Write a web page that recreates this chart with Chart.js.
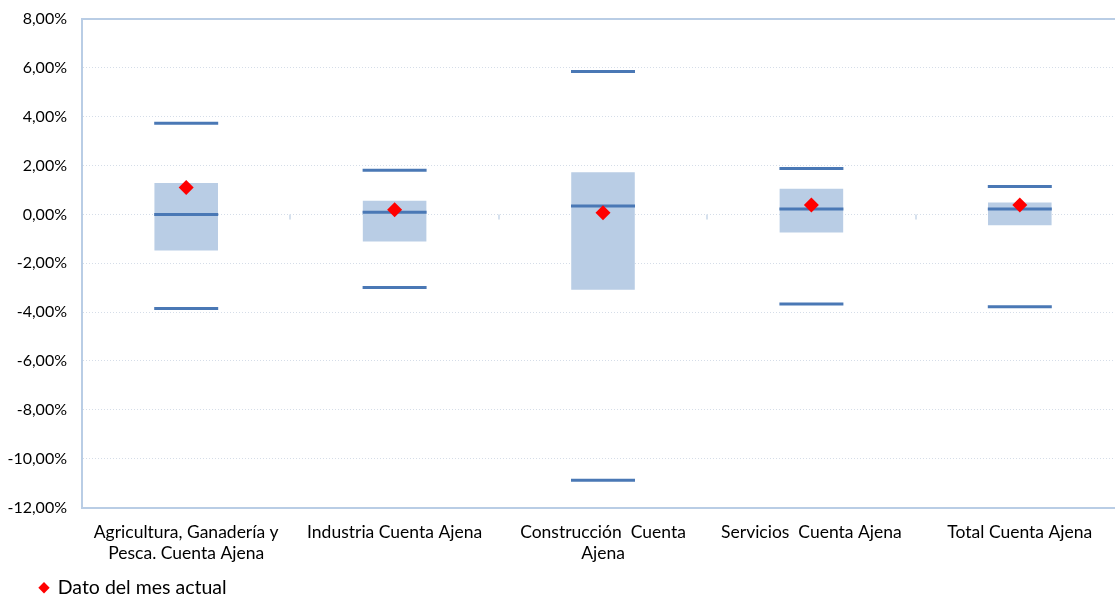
<!DOCTYPE html>
<html>
<head>
<meta charset="utf-8">
<script src="https://cdn.jsdelivr.net/npm/chart.js@4/dist/chart.umd.min.js"></script>
<style>
  html, body { margin: 0; padding: 0; background: #fff; overflow: hidden; }
  #c { display: block; }
</style>
</head>
<body>
<canvas id="c" width="1124" height="596" style="width:1124px;height:596px"></canvas>
<script>
const categories = [
  ["Agricultura, Ganadería y", "Pesca. Cuenta Ajena"],
  "Industria Cuenta Ajena",
  ["Construcción  Cuenta", "Ajena"],
  "Servicios  Cuenta Ajena",
  "Total Cuenta Ajena"
];
const maxValues    = [3.73, 1.81, 5.85, 1.88, 1.14];
const boxHigh      = [1.29, 0.56, 1.73, 1.05, 0.49];
const medianValues = [0.00, 0.09, 0.34, 0.22, 0.22];
const boxLow       = [-1.48, -1.11, -3.08, -0.74, -0.44];
const minValues    = [-3.85, -2.99, -10.88, -3.67, -3.78];
const currentMonth = [1.10, 0.19, 0.07, 0.38, 0.38];
const yTickStep = 2;
const yMin = -12, yMax = 8;
const legendLabel = "Dato del mes actual";

const FONT = "Lato, 'Open Sans', sans-serif";
const lineBlue = '#4a78b5';
const boxBlue = '#b9cde5';
const axisBlue = '#b9cde5';

function lineDataset(values, label) {
  return {
    type: 'line', label: label, data: values, showLine: false,
    pointStyle: 'line', pointRadius: 32, pointHoverRadius: 32,
    pointBorderWidth: 3, pointHoverBorderWidth: 3,
    borderColor: lineBlue, backgroundColor: lineBlue, order: 2
  };
}

// small category-separator ticks on the zero line (Excel horizontal axis crossing at 0)
const zeroTicks = {
  id: 'zeroTicks',
  beforeDatasetsDraw(chart) {
    const x = chart.scales.x, y = chart.scales.y, ctx = chart.ctx;
    const y0 = y.getPixelForValue(0);
    ctx.save();
    ctx.strokeStyle = '#d6e1ee';
    ctx.lineWidth = 2;
    for (let i = 0; i < categories.length - 1; i++) {
      const xb = Math.round((x.getPixelForValue(i) + x.getPixelForValue(i + 1)) / 2);
      ctx.beginPath();
      ctx.moveTo(xb, y0);
      ctx.lineTo(xb, y0 + 5);
      ctx.stroke();
    }
    ctx.restore();
  }
};

// indent the legend like the original (legend sits under the plot, slightly inset)
const legendIndent = {
  id: 'legendIndent',
  afterLayout(chart) {
    if (chart.legend) { chart.legend.left += 34; chart.legend.right += 34; }
  }
};

new Chart(document.getElementById('c'), {
  plugins: [zeroTicks, legendIndent],
  data: {
    labels: categories,
    datasets: [
      {
        type: 'line', label: legendLabel, data: currentMonth, showLine: false,
        pointStyle: 'rectRot', pointRadius: 7.5, pointHoverRadius: 7.5,
        pointBorderWidth: 0, backgroundColor: '#ff0000', borderColor: '#ff0000', order: 1
      },
      lineDataset(maxValues, 'Máximo'),
      lineDataset(medianValues, 'Mediana'),
      lineDataset(minValues, 'Mínimo'),
      {
        type: 'bar', label: 'Rango', data: boxLow.map((v, i) => [v, boxHigh[i]]),
        backgroundColor: boxBlue, borderWidth: 0, grouped: false,
        barPercentage: 0.305, categoryPercentage: 1.0, order: 3
      }
    ]
  },
  options: {
    responsive: false, animation: false,
    layout: { autoPadding: false, padding: { left: 0, right: 0, top: 19, bottom: -11.5 } },
    plugins: {
      tooltip: { enabled: false },
      legend: {
        position: 'bottom', align: 'start',
        labels: {
          filter: (item) => item.text === legendLabel,
          usePointStyle: true, boxHeight: 8, boxWidth: 8,
          color: '#000', font: { family: FONT, size: 19.5 }, padding: 6
        }
      }
    },
    scales: {
      x: {
        type: 'category', position: 'bottom', offset: true,
        afterFit: (s) => { s.height = 64.5; },
        grid: { display: false, drawTicks: false },
        border: { display: true, color: axisBlue, width: 2 },
        ticks: { color: '#000', font: { family: FONT, size: 17.5, lineHeight: 1.22 }, padding: 14, maxRotation: 0, autoSkip: false }
      },
      x2: {
        type: 'category', position: 'top', offset: true,
        afterFit: (s) => { s.height = 0; },
        grid: { display: false, drawTicks: false },
        border: { display: true, color: axisBlue, width: 2 },
        ticks: { display: false }
      },
      y: {
        min: yMin, max: yMax,
        afterFit: (s) => { s.width = 82; },
        grid: { color: '#d5dde8', lineWidth: 1, drawTicks: true, tickLength: 15, tickColor: 'rgba(0,0,0,0)' },
        border: { display: true, color: axisBlue, width: 2, dash: [1, 2] },
        ticks: {
          stepSize: yTickStep, padding: 0, color: '#000',
          font: { family: FONT, size: 16 },
          callback: (v) => v.toFixed(2).replace('.', ',') + '%'
        }
      }
    }
  }
});
</script>
</body>
</html>
